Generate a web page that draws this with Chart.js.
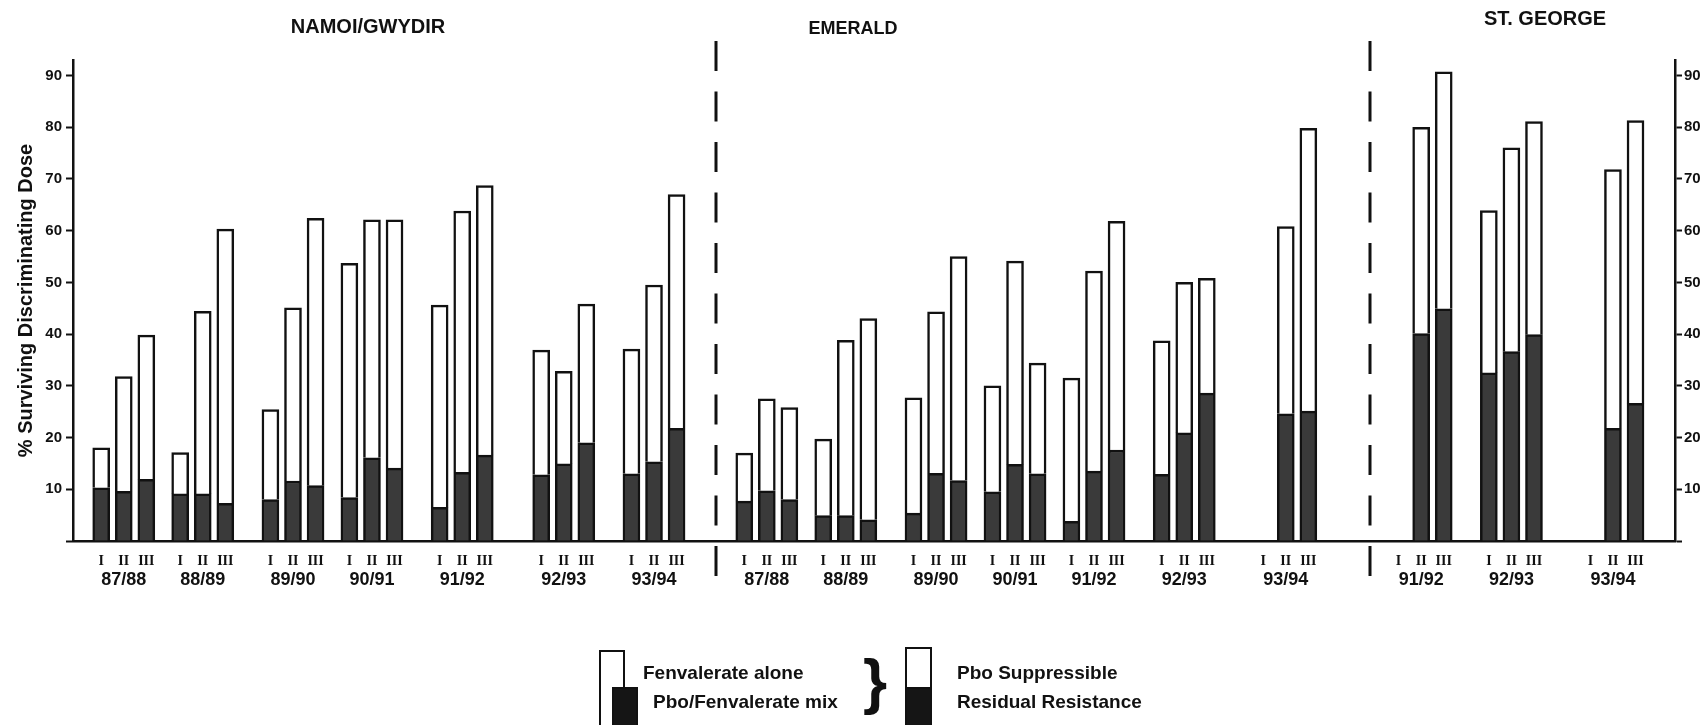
<!DOCTYPE html>
<html>
<head>
<meta charset="utf-8">
<title>% Surviving Discriminating Dose</title>
<script src="https://cdn.jsdelivr.net/npm/chart.js@4.4.1/dist/chart.umd.min.js"></script>
<style>
    body { margin: 0; background: #fff; }
    #wrap {
        position: relative;
        width: 1708px;
        height: 725px;
        overflow: hidden;
        font-family: 'Liberation Sans', Arial, sans-serif;
        color: #111;
    }
    #chart { position: absolute; left: 0; top: 0; }
    .region {
        position: absolute;
        font-weight: bold;
        font-size: 20px;
        line-height: 24px;
        white-space: nowrap;
        transform: translateX(-50%);
    }
    .legend-text {
        position: absolute;
        font-weight: bold;
        font-size: 19px;
        line-height: 24px;
        white-space: nowrap;
    }
    .swatch {
        position: absolute;
        box-sizing: border-box;
        border: 2.5px solid #111;
        background: #fff;
    }
    .swatch.dark { background: #151515; }
    .brace {
        position: absolute;
        font-weight: bold;
        font-size: 62px;
        line-height: 62px;
    }
</style>
</head>
<body>
<div id="wrap">
    <canvas id="chart" width="1708" height="725"></canvas>

    <div class="region" style="left:368px; top:14px;">NAMOI/GWYDIR</div>
    <div class="region" style="left:853px; top:16px; font-size:18px;">EMERALD</div>
    <div class="region" style="left:1545px; top:6px;">ST. GEORGE</div>

    <!-- legend -->
    <div class="swatch" style="left:599px; top:650px; width:26px; height:90px;"></div>
    <div class="swatch dark" style="left:612px; top:687px; width:26px; height:50px;"></div>
    <div class="legend-text" style="left:643px; top:661px;">Fenvalerate alone</div>
    <div class="legend-text" style="left:653px; top:690px;">Pbo/Fenvalerate mix</div>
    <div class="brace" style="left:863px; top:650px;">}</div>
    <div class="swatch" style="left:905px; top:647px; width:27px; height:90px;"></div>
    <div class="swatch dark" style="left:905px; top:687px; width:27px; height:50px;"></div>
    <div class="legend-text" style="left:957px; top:661px;">Pbo Suppressible</div>
    <div class="legend-text" style="left:957px; top:690px;">Residual Resistance</div>
</div>

<script>
// Spray periods within each season
const sprayTimes = ['I', 'II', 'III'];

// Seasons per district
const namoiSeasons = ['87/88', '88/89', '89/90', '90/91', '91/92', '92/93', '93/94'];
const emeraldSeasons = ['87/88', '88/89', '89/90', '90/91', '91/92', '92/93', '93/94'];
const stGeorgeSeasons = ['91/92', '92/93', '93/94'];

// % surviving, fenvalerate alone (whole bar), per season [I, II, III]
const namoiFenvalerate = [
    [18.0, 31.8, 39.8], [17.1, 44.4, 60.3], [25.4, 45.1, 62.4], [53.7, 62.1, 62.1],
    [45.6, 63.8, 68.7], [36.9, 32.8, 45.8], [37.1, 49.5, 67.0]
];
const emeraldFenvalerate = [
    [17.0, 27.5, 25.8], [19.7, 38.8, 43.0], [27.7, 44.3, 55.0], [30.0, 54.1, 34.4],
    [31.5, 52.2, 61.8], [38.7, 50.0, 50.8], [null, 60.8, 79.8]
];
const stGeorgeFenvalerate = [
    [null, 80.0, 90.7], [63.9, 76.0, 81.1], [null, 71.8, 81.3]
];

// % surviving, pbo/fenvalerate mix (residual resistance, dark part)
const namoiMix = [
    [10.3, 9.6, 11.9], [9.1, 9.1, 7.3], [8.0, 11.6, 10.7], [8.4, 16.1, 14.1],
    [6.5, 13.3, 16.6], [12.8, 14.9, 19.0], [13.0, 15.3, 21.8]
];
const emeraldMix = [
    [7.7, 9.7, 8.0], [4.9, 4.9, 4.1], [5.4, 13.1, 11.7], [9.5, 14.8, 13.0],
    [3.8, 13.5, 17.6], [12.9, 20.9, 28.6], [null, 24.6, 25.1]
];
const stGeorgeMix = [
    [null, 40.1, 44.9], [32.5, 36.6, 39.9], [null, 21.8, 26.6]
];

const yTicks = [10, 20, 30, 40, 50, 60, 70, 80, 90];

// Layout only: empty category slots before each season group (last entry = after the district)
const namoiSpacers = [2, 2, 3, 2, 3, 4, 3, 3];
const emeraldSpacers = [2, 2, 3, 2, 2, 3, 4, 5];
const stGeorgeSpacers = [2, 3, 4, 3];

// Build the category slots
const sprayLabels = [];
const seasonLabels = [];
const mixData = [];
const suppressibleData = [];
const dividers = [];

function addBlank(n) {
    for (let i = 0; i < n; i++) {
        sprayLabels.push('');
        seasonLabels.push('');
        mixData.push(null);
        suppressibleData.push(null);
    }
}

function addDistrict(seasons, fen, mix, spacers) {
    seasons.forEach((season, i) => {
        addBlank(spacers[i]);
        sprayTimes.forEach((t, k) => {
            if (k > 0) addBlank(1);
            sprayLabels.push(t);
            seasonLabels.push(k === 1 ? season : '');
            const total = fen[i][k];
            const resid = mix[i][k];
            mixData.push(resid);
            suppressibleData.push(total == null ? null : +(total - resid).toFixed(1));
        });
    });
    addBlank(spacers[seasons.length]);
    dividers.push(sprayLabels.length - 0.5);
}

addDistrict(namoiSeasons, namoiFenvalerate, namoiMix, namoiSpacers);
addDistrict(emeraldSeasons, emeraldFenvalerate, emeraldMix, emeraldSpacers);
addDistrict(stGeorgeSeasons, stGeorgeFenvalerate, stGeorgeMix, stGeorgeSpacers);
dividers.pop(); // no divider after the last district

// Dashed district dividers
const dividerPlugin = {
    id: 'districtDividers',
    afterDatasetsDraw(chart) {
        const { ctx, chartArea, scales } = chart;
        ctx.save();
        ctx.strokeStyle = '#111';
        ctx.lineWidth = 3;
        ctx.setLineDash([30, 20.5]);
        dividers.forEach(v => {
            const px = Math.round(scales.x.getPixelForValue(v));
            ctx.beginPath();
            ctx.moveTo(px, chartArea.bottom + 35);
            ctx.lineTo(px, chartArea.top - 19);
            ctx.stroke();
        });
        ctx.restore();
    }
};

const tickFont = { family: "'Liberation Sans', Arial, sans-serif", size: 15, weight: 'bold' };
const yTickCallback = v => (yTicks.includes(v) ? v : '');

new Chart(document.getElementById('chart'), {
    type: 'bar',
    data: {
        labels: sprayLabels,
        datasets: [
            {
                label: 'Residual Resistance',
                data: mixData,
                backgroundColor: '#3a3a3a',
                borderColor: '#111',
                borderWidth: 2.5,
                barThickness: 17
            },
            {
                label: 'Pbo Suppressible',
                data: suppressibleData,
                backgroundColor: '#ffffff',
                borderColor: '#111',
                borderWidth: 2.5,
                barThickness: 17
            }
        ]
    },
    options: {
        responsive: false,
        animation: false,
        devicePixelRatio: 1,
        layout: { padding: { top: 60, bottom: 128, left: 0, right: 0 } },
        plugins: {
            legend: { display: false },
            tooltip: { enabled: false }
        },
        scales: {
            x: {
                stacked: true,
                offset: true,
                weight: 0,
                grid: { display: false },
                border: { display: true, color: '#111', width: 2.5 },
                ticks: {
                    autoSkip: false,
                    maxRotation: 0,
                    minRotation: 0,
                    padding: 4,
                    color: '#111',
                    font: { family: "'Liberation Serif', 'Times New Roman', serif", size: 14, weight: 'bold' }
                },
                afterFit: scale => { scale.height = 24; }
            },
            x2: {
                type: 'category',
                labels: seasonLabels,
                position: 'bottom',
                offset: true,
                weight: 1,
                grid: { display: false },
                border: { display: false },
                ticks: {
                    autoSkip: false,
                    maxRotation: 0,
                    minRotation: 0,
                    padding: -4,
                    color: '#111',
                    font: { family: "'Liberation Sans', Arial, sans-serif", size: 18, weight: 'bold' }
                },
                afterFit: scale => { scale.height = 32; }
            },
            y: {
                stacked: true,
                min: 0,
                max: 93,
                position: 'left',
                grid: { drawOnChartArea: false, drawTicks: true, tickLength: 7, tickColor: '#111', tickWidth: 2 },
                border: { display: true, color: '#111', width: 2.5 },
                ticks: {
                    stepSize: 10,
                    includeBounds: false,
                    padding: 4,
                    color: '#111',
                    font: tickFont,
                    callback: yTickCallback
                },
                title: {
                    display: true,
                    text: '% Surviving Discriminating Dose',
                    color: '#111',
                    padding: { top: 14, bottom: 0 },
                    font: { family: "'Liberation Sans', Arial, sans-serif", size: 20, weight: 'bold' }
                },
                afterFit: scale => { scale.width = 73; }
            },
            y2: {
                min: 0,
                max: 93,
                position: 'right',
                grid: { drawOnChartArea: false, drawTicks: true, tickLength: 7, tickColor: '#111', tickWidth: 2 },
                border: { display: true, color: '#111', width: 2.5 },
                ticks: {
                    stepSize: 10,
                    includeBounds: false,
                    padding: 2,
                    color: '#111',
                    font: tickFont,
                    callback: yTickCallback
                },
                afterFit: scale => { scale.width = 33; }
            }
        }
    },
    plugins: [dividerPlugin]
});
</script>
</body>
</html>
